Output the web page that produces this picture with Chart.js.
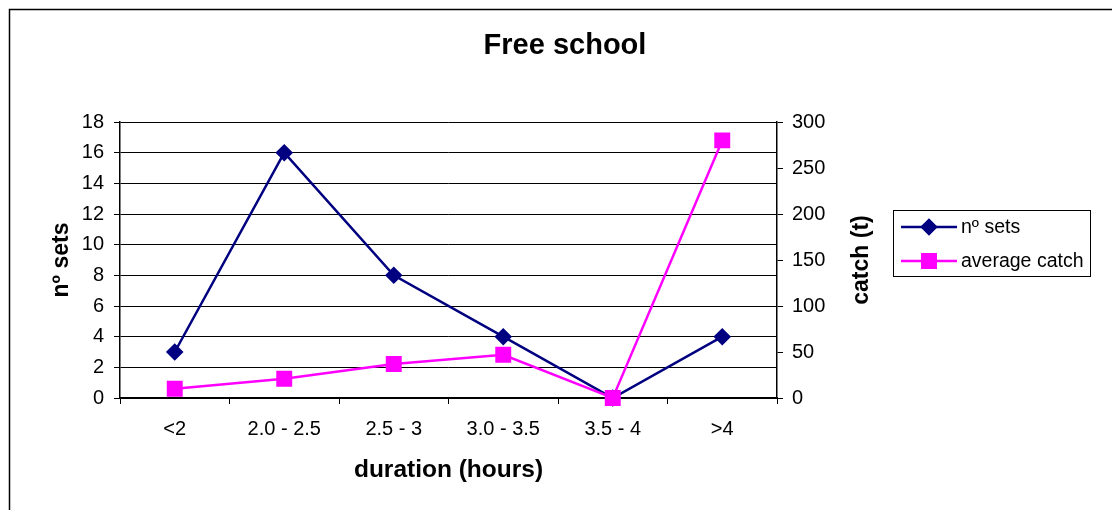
<!DOCTYPE html>
<html>
<head>
<meta charset="utf-8">
<title>Free school</title>
<script src="https://cdn.jsdelivr.net/npm/chart.js@4.4.1/dist/chart.umd.min.js"></script>
<style>
  html, body { margin: 0; padding: 0; background: #fff; }
  canvas { display: block; }
</style>
</head>
<body>
<canvas id="chart" width="1112" height="510"></canvas>
<script>
// Fishing sets by duration class
const categories = ['<2', '2.0 - 2.5', '2.5 - 3', '3.0 - 3.5', '3.5 - 4', '>4'];
const numberOfSets = [3, 16, 8, 4, 0, 4];
const averageCatch = [10, 21, 37, 47, 0, 280];

const chartTitle = 'Free school';
const setsAxisTitle = 'nº sets';
const catchAxisTitle = 'catch (t)';
const durationAxisTitle = 'duration (hours)';
const seriesLabels = ['nº sets', 'average catch'];

const setsRange = [0, 18, 2];
const catchRange = [0, 300, 50];

const FONT = "'Liberation Sans', Arial, Helvetica, sans-serif";
const NAVY = '#000080';
const MAGENTA = '#FF00FF';

// White page with a frame along the top and left edges
const framePlugin = {
  id: 'frame',
  beforeDraw(chart) {
    const ctx = chart.ctx;
    ctx.save();
    ctx.fillStyle = '#fff';
    ctx.fillRect(0, 0, chart.width, chart.height);
    ctx.strokeStyle = '#000';
    ctx.lineWidth = 1.5;
    ctx.beginPath();
    ctx.moveTo(9.5, chart.height);
    ctx.lineTo(9.5, 9.5);
    ctx.lineTo(chart.width, 9.5);
    ctx.stroke();
    ctx.restore();
  }
};

// Title, right-hand axis title (reading upwards) and a line+marker legend
const decorationsPlugin = {
  id: 'decorations',
  afterDraw(chart) {
    const ctx = chart.ctx;
    ctx.save();
    ctx.fillStyle = '#000';

    ctx.font = 'bold 29px ' + FONT;
    ctx.textAlign = 'center';
    ctx.textBaseline = 'middle';
    ctx.fillText(chartTitle, 565, 46);

    ctx.save();
    ctx.translate(862, (chart.chartArea.top + chart.chartArea.bottom) / 2);
    ctx.rotate(-Math.PI / 2);
    ctx.font = 'bold 23px ' + FONT;
    ctx.fillText(catchAxisTitle, 0, 0);
    ctx.restore();

    // legend box
    const box = { x: 893.5, y: 210.5, w: 197, h: 66 };
    ctx.strokeStyle = '#000';
    ctx.lineWidth = 1;
    ctx.strokeRect(box.x, box.y, box.w, box.h);

    ctx.font = '19.5px ' + FONT;
    ctx.textAlign = 'left';
    const rows = [227, 261];
    chart.data.datasets.forEach((ds, i) => {
      const y = rows[i];
      ctx.strokeStyle = ds.borderColor;
      ctx.lineWidth = ds.borderWidth;
      ctx.beginPath();
      ctx.moveTo(901, y);
      ctx.lineTo(957, y);
      ctx.stroke();
      ctx.fillStyle = ds.pointBackgroundColor;
      ctx.strokeStyle = ds.pointBorderColor;
      Chart.helpers.drawPoint(ctx, {
        pointStyle: ds.pointStyle,
        radius: ds.pointRadius,
        rotation: 0,
        borderWidth: 1
      }, 929, y);
      ctx.fillStyle = '#000';
      ctx.fillText(ds.label, 961, y + 1);
    });
    ctx.restore();
  }
};

const tickFont = { family: FONT, size: 20 };

new Chart(document.getElementById('chart'), {
  type: 'line',
  data: {
    labels: categories,
    datasets: [
      {
        label: seriesLabels[0],
        data: numberOfSets,
        yAxisID: 'y',
        borderColor: NAVY,
        backgroundColor: NAVY,
        borderWidth: 2.5,
        pointStyle: 'rectRot',
        pointRadius: 7,
        pointHoverRadius: 7,
        pointBackgroundColor: NAVY,
        pointBorderColor: NAVY,
        tension: 0,
        clip: false,
        order: 1
      },
      {
        label: seriesLabels[1],
        data: averageCatch,
        yAxisID: 'y1',
        borderColor: MAGENTA,
        backgroundColor: MAGENTA,
        borderWidth: 2.5,
        pointStyle: 'rect',
        pointRadius: 9.5,
        pointHoverRadius: 9.5,
        pointBackgroundColor: MAGENTA,
        pointBorderColor: MAGENTA,
        tension: 0,
        clip: false,
        order: 0
      }
    ]
  },
  options: {
    responsive: false,
    animation: false,
    events: [],
    layout: { padding: { top: 122, left: 37, right: 235, bottom: 20 } },
    plugins: {
      legend: { display: false },
      title: { display: false },
      tooltip: { enabled: false }
    },
    scales: {
      x: {
        type: 'category',
        offset: true,
        grid: {
          offset: true,
          drawOnChartArea: false,
          drawTicks: true,
          tickLength: 6,
          tickColor: '#000',
          lineWidth: 1
        },
        border: { display: true, color: '#000', width: 1.5 },
        ticks: { font: tickFont, color: '#000', padding: 13, maxRotation: 0, autoSkip: false },
        title: {
          display: true,
          text: durationAxisTitle,
          font: { family: FONT, size: 24.5, weight: 'bold' },
          color: '#000',
          padding: { top: 0, bottom: 5 }
        },
        afterFit(scale) { scale.height = 92; }
      },
      y: {
        position: 'left',
        min: setsRange[0],
        max: setsRange[1],
        grid: {
          color: '#000',
          lineWidth: 1,
          drawTicks: true,
          tickLength: 6,
          tickColor: '#000'
        },
        border: { display: true, color: '#000', width: 1.5 },
        ticks: { stepSize: setsRange[2], font: tickFont, color: '#000', padding: 10 },
        title: {
          display: true,
          text: setsAxisTitle,
          font: { family: FONT, size: 23, weight: 'bold' },
          color: '#000',
          padding: { top: 11, bottom: 0 }
        },
        afterFit(scale) { scale.width = 83; }
      },
      y1: {
        position: 'right',
        min: catchRange[0],
        max: catchRange[1],
        grid: {
          drawOnChartArea: false,
          drawTicks: true,
          tickLength: 6,
          tickColor: '#000'
        },
        border: { display: true, color: '#000', width: 1.5 },
        ticks: { stepSize: catchRange[2], font: tickFont, color: '#000', padding: 9 },
        afterFit(scale) { scale.width = 100; }
      }
    }
  },
  plugins: [framePlugin, decorationsPlugin]
});
</script>
</body>
</html>
